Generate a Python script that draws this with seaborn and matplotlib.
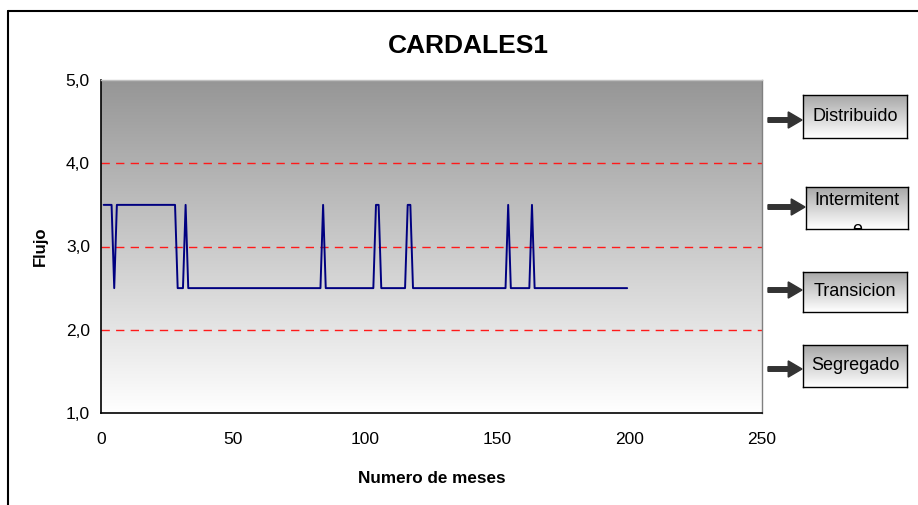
import numpy as np
import matplotlib
matplotlib.use("Agg")
import matplotlib.pyplot as plt
from matplotlib.lines import Line2D
from matplotlib.patches import FancyArrow
from matplotlib.colors import LinearSegmentedColormap
from matplotlib.ticker import FuncFormatter
import seaborn as sns
import pandas as pd

# runs of constant flow (months 1..199)
run_values = [3.5, 2.5, 3.5, 2.5, 3.5, 2.5, 3.5, 2.5, 3.5, 2.5, 3.5, 2.5, 3.5, 2.5, 3.5, 2.5]
run_lengths = [4, 1, 23, 3, 1, 51, 1, 19, 2, 10, 2, 36, 1, 8, 1, 36]
thresholds = [2.0, 3.0, 4.0]
regimes = ["Distribuido", "Intermitente", "Transicion", "Segregado"]

flujo = np.repeat(run_values, run_lengths)
meses = np.arange(1, len(flujo) + 1)
df = pd.DataFrame({"mes": meses, "flujo": flujo})

sns.set_style("white")
plt.rcParams["font.family"] = ["Liberation Sans", "DejaVu Sans"]
plt.rcParams["text.color"] = "black"
plt.rcParams["axes.labelcolor"] = "black"
plt.rcParams["xtick.color"] = "black"
plt.rcParams["ytick.color"] = "black"

W, H = 918, 505
fig = plt.figure(figsize=(W / 100, H / 100), dpi=100)

def fx(px):
    return px / W

def fy(py):
    return 1 - py / H

ax = fig.add_axes([fx(101), fy(413), fx(762) - fx(101), fy(80) - fy(413)])

# gray-to-white gradient background of the plot area
bg_cmap = LinearSegmentedColormap.from_list("bg", ["#ffffff", "#969696"])
ax.imshow(np.linspace(1, 0, 256).reshape(-1, 1), extent=[0, 250, 1, 5], aspect="auto",
          cmap=bg_cmap, origin="upper", zorder=0)

for t in thresholds:
    ax.axhline(t, color="#ff1a1a", ls=(0, (6, 4.5)), lw=1.0, zorder=1)

sns.lineplot(data=df, x="mes", y="flujo", color="#000080", lw=1.4, ax=ax, zorder=3)

ax.set_xlim(0, 250)
ax.set_ylim(1, 5)
ax.set_xticks([0, 50, 100, 150, 200, 250])
ax.set_yticks([1, 2, 3, 4, 5])
ax.yaxis.set_major_formatter(FuncFormatter(lambda v, p: f"{v:.1f}".replace(".", ",")))
ax.tick_params(axis="both", direction="out", length=5, width=1, color="black",
               labelsize=12.5, pad=3)
ax.tick_params(axis="x", pad=9)
for s in ["left", "bottom"]:
    ax.spines[s].set_color("black")
    ax.spines[s].set_linewidth(1.2)
ax.spines["right"].set_color("#808080")
ax.spines["right"].set_linewidth(1.0)
ax.spines["top"].set_color("#c0c0c0")
ax.spines["top"].set_linewidth(1.0)

ax.set_xlabel("Numero de meses", fontsize=12.3, fontweight="bold", labelpad=17)
ax.set_ylabel("Flujo", fontsize=12, fontweight="bold", labelpad=13)
fig.text(fx(468), fy(46), "CARDALES1", fontsize=19, fontweight="bold",
         ha="center", va="center")

# regime boxes with arrows on the right
boxes = [(803, 95, 907, 138, 120), (806, 187, 908, 229, 207),
         (803, 272, 907, 312, 290), (803, 345, 907, 387, 369)]
box_cmap = LinearSegmentedColormap.from_list("b", ["#a8a8a8", "#ffffff"])
for label, (x0, y0, x1, y1, ya) in zip(regimes, boxes):
    bax = fig.add_axes([fx(x0), fy(y1), fx(x1) - fx(x0), fy(y0) - fy(y1)])
    bax.imshow(np.linspace(0, 1, 64).reshape(-1, 1), extent=[0, 1, 0, 1], aspect="auto",
               cmap=box_cmap, origin="upper")
    bax.set_xlim(0, 1)
    bax.set_ylim(0, 1)
    bax.set_xticks([])
    bax.set_yticks([])
    for s in bax.spines.values():
        s.set_color("black")
        s.set_linewidth(1.0)
    if label == "Intermitente":
        # the word wraps inside the box and its last letter is cut off
        bax.text(0.5, 0.69, label[:-1], ha="center", va="center", fontsize=13)
        bax.text(0.5, 0.0, label[-1], ha="center", va="center", fontsize=13,
                 clip_on=True)
    else:
        bax.text(0.5, 0.5, label, ha="center", va="center", fontsize=13)
    fig.add_artist(FancyArrow(
        fx(768), fy(ya), fx(x0 - 1) - fx(768), 0, width=0.009, head_width=0.032,
        head_length=0.015, length_includes_head=True, color="#333333",
        transform=fig.transFigure))

# outer chart frame (top and left edges visible)
fig.add_artist(Line2D([fx(8), 1], [fy(11), fy(11)], color="black", lw=1.5))
fig.add_artist(Line2D([fx(8), fx(8)], [fy(11), 0], color="black", lw=1.5))

fig.savefig("out.png", dpi=100)
